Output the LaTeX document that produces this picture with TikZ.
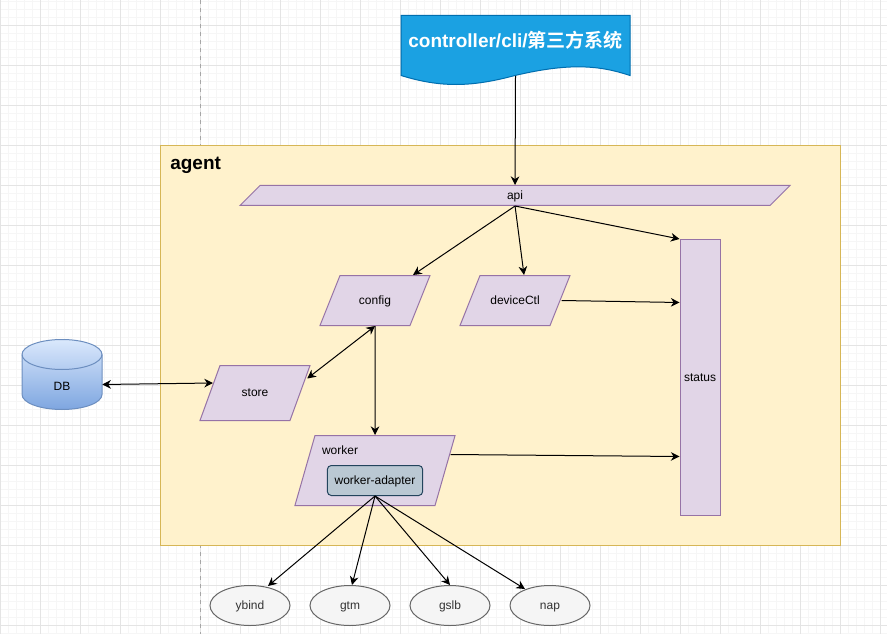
\documentclass[tikz,border=0pt]{standalone}
\usepackage{fontspec}
\setmainfont{Liberation Sans}
\newfontfamily\cjkfont{Noto Sans CJK SC}[BoldFont={Noto Sans CJK SC Bold}]
\usepackage{xcolor}
\usetikzlibrary{arrows.meta,calc,shapes.geometric}
\definecolor{panelfill}{HTML}{FFF2CC}
\definecolor{paneldraw}{HTML}{D6B656}
\definecolor{purplefill}{HTML}{E1D5E7}
\definecolor{purpledraw}{HTML}{9673A6}
\definecolor{slatefill}{HTML}{BAC8D3}
\definecolor{slatedraw}{HTML}{23445D}
\definecolor{grayfill}{HTML}{F5F5F5}
\definecolor{graydraw}{HTML}{666666}
\definecolor{graytext}{HTML}{333333}
\definecolor{bluefill}{HTML}{1BA1E2}
\definecolor{bluedraw}{HTML}{006EAF}
\definecolor{dbtop}{HTML}{DAE8FC}
\definecolor{dbbottom}{HTML}{7EA6E0}
\definecolor{dbdraw}{HTML}{6C8EBF}
\definecolor{gridmajor}{HTML}{E4E4E4}
\definecolor{gridminor}{HTML}{F6F6F6}
\tikzset{
  smalltext/.style={font=\fontsize{9}{11}\selectfont,text height=7.5pt,text depth=1.5pt},
  slantbox/.style={trapezium,draw=purpledraw,fill=purplefill,line width=0.75pt,
    inner sep=0pt,align=center,font=\fontsize{9}{11}\selectfont},
  statusbox/.style={rectangle,draw=purpledraw,fill=purplefill,line width=0.75pt,inner sep=0pt,smalltext},
  adapterbox/.style={rectangle,rounded corners=3pt,draw=slatedraw,fill=slatefill,line width=0.75pt,inner sep=0pt,smalltext},
  backend/.style={ellipse,draw=graydraw,fill=grayfill,text=graytext,line width=0.75pt,inner sep=0pt,
    minimum width=60pt,minimum height=30pt,smalltext},
  flowarrow/.style={-{Stealth[length=6.5pt,width=6.5pt]},draw=black,line width=0.75pt},
  bothways/.style={{Stealth[length=6.5pt,width=6.5pt]}-{Stealth[length=6.5pt,width=6.5pt]},draw=black,line width=0.75pt}
}
\begin{document}
\begin{tikzpicture}[x=0.75pt,y=-0.75pt]
  \useasboundingbox (0,-0.5) rectangle (887,633.5);
  \fill[white] (0,-0.5) rectangle (887,633.5);
  \foreach \gx in {8,16,...,880} {\draw[gridminor,line width=0.75pt] (\gx,-0.5)--(\gx,633.5);}
  \foreach \gy in {1,9,...,633} {\draw[gridminor,line width=0.75pt] (0,\gy)--(887,\gy);}
  \foreach \gx in {0,40,...,880} {\draw[gridmajor,line width=0.75pt] (\gx,-0.5)--(\gx,633.5);}
  \foreach \gy in {25,65,...,625} {\draw[gridmajor,line width=0.75pt] (0,\gy)--(887,\gy);}
  \draw[gray!70,dashed,line width=0.75pt] (200,-0.5)--(200,633.5);
  \node[rectangle,draw=paneldraw,fill=panelfill,line width=0.75pt,minimum width=510pt,minimum height=300pt,inner sep=0pt] (agent) at (500,345) {};
  \node[anchor=west,inner sep=0pt,font=\fontsize{14.25}{18}\selectfont\bfseries] (agenttitle) at (170,165) {agent};
  \draw[bluedraw,fill=bluefill,line width=0.75pt] (401,15)--(630,15)--(630,75)
    .. controls (600,65) and (570,62) .. (515,75) .. controls (470,87) and (440,87) .. (401,75)--cycle;
  \node[text=white,font=\fontsize{14.25}{18}\selectfont\bfseries,minimum width=171pt,minimum height=37.5pt,inner sep=0pt] (ctrl) at (515.5,40) {controller/cli/{\cjkfont 第三方系统}};
  \node[slantbox,trapezium left angle=45,trapezium right angle=135,text width=382.5pt,text height=10.5pt,text depth=4.5pt] (api) at (515,195) {api};
  \node[statusbox,minimum width=30pt,minimum height=207pt] (status) at (700,377) {status};
  \node[slantbox,trapezium left angle=68.2,trapezium right angle=111.8,text width=52.5pt,text height=21.75pt,text depth=15.75pt] (config) at (375,300) {config};
  \node[slantbox,trapezium left angle=68.2,trapezium right angle=111.8,text width=52.5pt,text height=21.75pt,text depth=15.75pt] (devicectl) at (515,300) {deviceCtl};
  \node[slantbox,trapezium left angle=70,trapezium right angle=110,text width=52.5pt,text height=23.6pt,text depth=17.65pt] (store) at (255,392.5) {store};
  \node[slantbox,trapezium left angle=74,trapezium right angle=106,text width=90pt,text height=28.5pt,text depth=24pt] (worker) at (375,470) {\phantom{x}};
  \node[inner sep=0pt,smalltext] (workerlabel) at (340,450) {worker};
  \node[adapterbox,minimum width=71.5pt,minimum height=22.5pt] (adapter) at (375,480) {worker-adapter};
  \node[backend] (ybind) at (250,605) {ybind};
  \node[backend] (gtm) at (350,605) {gtm};
  \node[backend] (gslb) at (450,605) {gslb};
  \node[backend] (nap) at (550,605) {nap};
  \draw[dbdraw,line width=0.75pt,top color=dbtop,bottom color=dbbottom] (22,354)
    arc[start angle=180,end angle=0,x radius=40,y radius=-15]--(102,394)
    arc[start angle=0,end angle=-180,x radius=40,y radius=-15]--cycle;
  \draw[dbdraw,line width=0.75pt] (22,354) arc[start angle=180,end angle=360,x radius=40,y radius=-15];
  \node[minimum width=60pt,minimum height=33pt,inner sep=0pt,smalltext] (db) at (62,386) {DB};
  \draw[flowarrow] ($(ctrl.south)+(0,10)$)--(api.north);
  \draw[flowarrow] (api.south)--($(config.north)+(38,0)$);
  \draw[flowarrow] (api.south)--($(devicectl.north)+(9,0)$);
  \draw[flowarrow] (api.south)--(status.north west);
  \draw[flowarrow] ($(devicectl.east)+(1,0)$)--($(status.west)+(0,-75)$);
  \draw[bothways] ($(db.east)+(0,-2)$)--($(store.west)+(3.5,-10)$);
  \draw[bothways] (config.south)--($(store.east)+(6.7,-14.5)$);
  \draw[flowarrow] (config.south)--(worker.north);
  \draw[flowarrow] ($(worker.east)+(5,-16)$)--($(status.west)+(0,79)$);
  \draw[flowarrow] (adapter.south)--($(ybind.north)+(18,1)$);
  \draw[flowarrow] (adapter.south)--($(gtm.north)+(2,0)$);
  \draw[flowarrow] (adapter.south)--(gslb.north);
  \draw[flowarrow] (adapter.south)--($(nap.north)+(-25,4)$);
\end{tikzpicture}
\end{document}
